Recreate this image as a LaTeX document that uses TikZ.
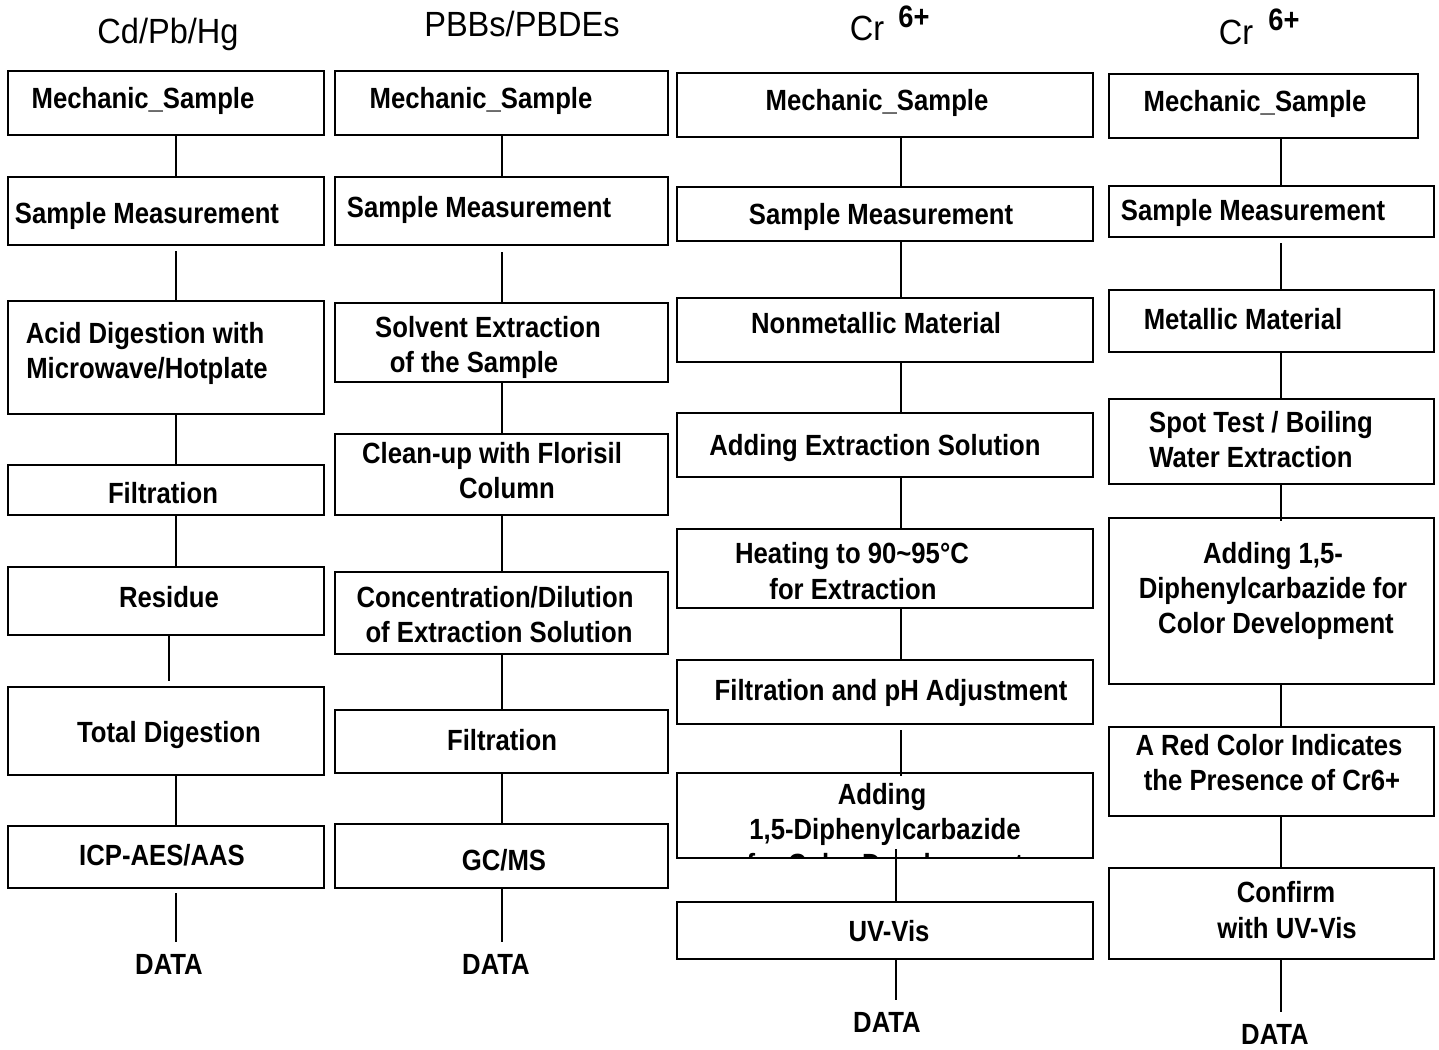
\documentclass[tikz,border=0pt]{standalone}
\usepackage{fontspec}
\setmainfont{Liberation Sans}
\newfontfamily\stepfont{Liberation Sans}[FakeStretch=0.88]
\newfontfamily\headfont{Liberation Sans}[FakeStretch=0.93]
\usetikzlibrary{fit}
\tikzset{
  stepbox/.style={draw, line width=1pt, inner sep=0pt, rectangle},
  steptext/.style={font=\stepfont\bfseries\fontsize{14.6}{17}\selectfont, inner sep=0pt, anchor=base},
  datatext/.style={steptext, inner sep=6pt},
  headtext/.style={font=\headfont\fontsize{17.5}{20}\selectfont, inner sep=0pt, anchor=base},
  suptext/.style={font=\stepfont\bfseries\fontsize{15.5}{17}\selectfont, inner sep=0pt, anchor=base},
  link/.style={line width=1pt},
}

\begin{document}
\begin{tikzpicture}[x=0.5pt, y=-0.5pt]
        \useasboundingbox (0,0) rectangle (1439,1049);

        % Headings
        \node [headtext] (h1) at (168, 43) {Cd/Pb/Hg};
        \node [headtext] (h2) at (522, 36) {PBBs/PBDEs};
        \node [headtext] (h3) at (867, 40) {Cr};
        \node [suptext] (s3) at (914, 27) {6+};
        \node [headtext] (h4) at (1236, 44) {Cr};
        \node [suptext] (s4) at (1284, 30) {6+};

        % Column 1: Cd/Pb/Hg
        \node [stepbox, fit = {(8, 71) (324, 135)}] (ms1) {};
        \node [stepbox, fit = {(8, 177) (324, 245)}] (sm1) {};
        \node [stepbox, fit = {(8, 301) (324, 414)}] (ad1) {};
        \node [stepbox, fit = {(8, 465) (324, 515)}] (fi1) {};
        \node [stepbox, fit = {(8, 567) (324, 635)}] (re1) {};
        \node [stepbox, fit = {(8, 687) (324, 775)}] (td1) {};
        \node [stepbox, fit = {(8, 826) (324, 888)}] (ic1) {};

        \node [steptext] at (143, 108.5) {Mechanic\_Sample};
        \node [steptext] at (147, 223.5) {Sample Measurement};
        \node [steptext] at (145, 343.5) {Acid Digestion with};
        \node [steptext] at (147, 378.5) {Microwave/Hotplate};
        \node [steptext] at (163, 503.5) {Filtration};
        \node [steptext] at (169, 607.5) {Residue};
        \node [steptext] at (169, 742.5) {Total Digestion};
        \node [steptext] at (162, 865.5) {ICP-AES/AAS};
        \node [datatext] (da1) at (169, 974.5) {DATA};

        % Column 2: PBBs/PBDEs
        \node [stepbox, fit = {(335, 71) (668, 135)}] (ms2) {};
        \node [stepbox, fit = {(335, 177) (668, 245)}] (sm2) {};
        \node [stepbox, fit = {(335, 303) (668, 382)}] (se2) {};
        \node [stepbox, fit = {(335, 434) (668, 515)}] (cl2) {};
        \node [stepbox, fit = {(335, 572) (668, 654)}] (co2) {};
        \node [stepbox, fit = {(335, 710) (668, 773)}] (fi2) {};
        \node [stepbox, fit = {(335, 824) (668, 888)}] (gc2) {};

        \node [steptext] at (481, 108.5) {Mechanic\_Sample};
        \node [steptext] at (479, 217.5) {Sample Measurement};
        \node [steptext] at (488, 337.5) {Solvent Extraction};
        \node [steptext] at (474, 372.5) {of the Sample};
        \node [steptext] at (492, 463.5) {Clean-up with Florisil};
        \node [steptext] at (507, 498.5) {Column};
        \node [steptext] at (495, 607.5) {Concentration/Dilution};
        \node [steptext] at (499, 642.5) {of Extraction Solution};
        \node [steptext] at (502, 750.5) {Filtration};
        \node [steptext] at (504, 870.5) {GC/MS};
        \node [datatext] (da2) at (496, 974.5) {DATA};

        % Column 3: Cr 6+, nonmetallic
        \node [stepbox, fit = {(677, 73) (1093, 137)}] (ms3) {};
        \node [stepbox, fit = {(677, 187) (1093, 241)}] (sm3) {};
        \node [stepbox, fit = {(677, 298) (1093, 362)}] (nm3) {};
        \node [stepbox, fit = {(677, 413) (1093, 477)}] (ae3) {};
        \node [stepbox, fit = {(677, 529) (1093, 608)}] (he3) {};
        \node [stepbox, fit = {(677, 660) (1093, 724)}] (fp3) {};
        \node [stepbox, fit = {(677, 773) (1093, 858)}] (dc3) {};
        \node [stepbox, fit = {(677, 902) (1093, 959)}] (uv3) {};

        \node [steptext] at (877, 110.5) {Mechanic\_Sample};
        \node [steptext] at (881, 224.5) {Sample Measurement};
        \node [steptext] at (876, 333.5) {Nonmetallic Material};
        \node [steptext] at (875, 455.5) {Adding Extraction Solution};
        \node [steptext] at (852, 563.5) {Heating to 90\textasciitilde95°C};
        \node [steptext] at (853, 599.5) {for Extraction};
        \node [steptext] at (891, 700.5) {Filtration and pH Adjustment};
        \node [steptext] at (882, 804.5) {Adding};
        \node [steptext] at (885, 839.5) {1,5-Diphenylcarbazide};
        \begin{scope}
          \clip (677, 773) rectangle (1093, 858);
          \node [steptext] at (885, 874.5) {for Color Development};
        \end{scope}
        \node [steptext] at (889, 941.5) {UV-Vis};
        \node [datatext] (da3) at (887, 1032.5) {DATA};

        % Column 4: Cr 6+, metallic
        \node [stepbox, fit = {(1109, 74) (1418, 138)}] (ms4) {};
        \node [stepbox, fit = {(1109, 186) (1434, 237)}] (sm4) {};
        \node [stepbox, fit = {(1109, 290) (1434, 352)}] (mm4) {};
        \node [stepbox, fit = {(1109, 399) (1434, 484)}] (st4) {};
        \node [stepbox, fit = {(1109, 518) (1434, 684)}] (dc4) {};
        \node [stepbox, fit = {(1109, 727) (1434, 816)}] (rc4) {};
        \node [stepbox, fit = {(1109, 868) (1434, 959)}] (cf4) {};

        \node [steptext] at (1255, 111.5) {Mechanic\_Sample};
        \node [steptext] at (1253, 220.5) {Sample Measurement};
        \node [steptext] at (1243, 329.5) {Metallic Material};
        \node [steptext] at (1261, 432.5) {Spot Test / Boiling};
        \node [steptext] at (1251, 467.5) {Water Extraction};
        \node [steptext] at (1273, 563.5) {Adding 1,5-};
        \node [steptext] at (1273, 598.5) {Diphenylcarbazide for};
        \node [steptext] at (1276, 633.5) {Color Development};
        \node [steptext] at (1269, 755.5) {A Red Color Indicates};
        \node [steptext] at (1272, 790.5) {the Presence of Cr6+};
        \node [steptext] at (1286, 902.5) {Confirm};
        \node [steptext] at (1287, 938.5) {with UV-Vis};
        \node [datatext] (da4) at (1275, 1044.5) {DATA};

        % Draw the links
        \coordinate (x1) at (176, 0);
        \coordinate (x1r) at (169, 0);
        \coordinate (x2) at (502, 0);
        \coordinate (x3) at (901, 0);
        \coordinate (x3b) at (896, 0);
        \coordinate (x4) at (1281, 0);

        \draw [link] (ms1.south -| x1) -- (sm1.north -| x1);
        \draw [link, shorten <= 2.5pt] (sm1.south -| x1) -- (ad1.north -| x1);
        \draw [link] (ad1.south -| x1) -- (fi1.north -| x1);
        \draw [link] (fi1.south -| x1) -- (re1.north -| x1);
        \draw [link, shorten >= 2.5pt] (re1.south -| x1r) -- (td1.north -| x1r);
        \draw [link] (td1.south -| x1) -- (ic1.north -| x1);
        \draw [link, shorten <= 2pt] (ic1.south -| x1) -- (da1.north -| x1);

        \draw [link] (ms2.south -| x2) -- (sm2.north -| x2);
        \draw [link, shorten <= 3pt] (sm2.south -| x2) -- (se2.north -| x2);
        \draw [link] (se2.south -| x2) -- (cl2.north -| x2);
        \draw [link] (cl2.south -| x2) -- (co2.north -| x2);
        \draw [link] (co2.south -| x2) -- (fi2.north -| x2);
        \draw [link] (fi2.south -| x2) -- (gc2.north -| x2);
        \draw [link] (gc2.south -| x2) -- (da2.north -| x2);

        \draw [link] (ms3.south -| x3) -- (sm3.north -| x3);
        \draw [link] (sm3.south -| x3) -- (nm3.north -| x3);
        \draw [link] (nm3.south -| x3) -- (ae3.north -| x3);
        \draw [link] (ae3.south -| x3) -- (he3.north -| x3);
        \draw [link] (he3.south -| x3) -- (fp3.north -| x3);
        \draw [link, shorten <= 2.5pt, shorten >= -2pt] (fp3.south -| x3) -- (dc3.north -| x3);
        \draw [link, shorten <= -5pt] (dc3.south -| x3b) -- (uv3.north -| x3b);
        \draw [link] (uv3.south -| x3b) -- (da3.north -| x3b);

        \draw [link] (ms4.south -| x4) -- (sm4.north -| x4);
        \draw [link, shorten <= 2.5pt] (sm4.south -| x4) -- (mm4.north -| x4);
        \draw [link] (mm4.south -| x4) -- (st4.north -| x4);
        \draw [link, shorten >= -2pt] (st4.south -| x4) -- (dc4.north -| x4);
        \draw [link] (dc4.south -| x4) -- (rc4.north -| x4);
        \draw [link] (rc4.south -| x4) -- (cf4.north -| x4);
        \draw [link] (cf4.south -| x4) -- (da4.north -| x4);

    \end{tikzpicture}
\end{document}
